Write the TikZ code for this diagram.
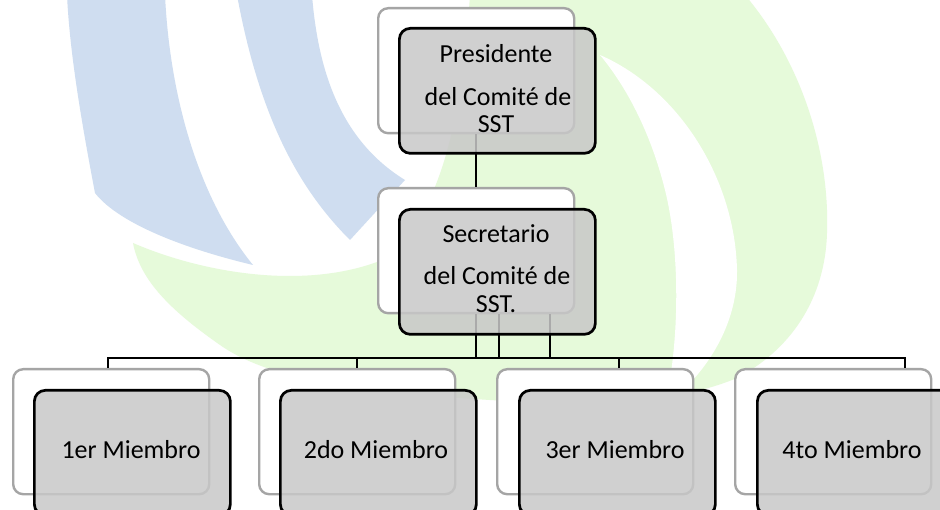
\documentclass[tikz,border=0pt]{standalone}
\usepackage{fontspec}
\setmainfont{Carlito}
\definecolor{wmblue}{RGB}{207,221,240}
\definecolor{wmgreen}{RGB}{230,250,218}
\definecolor{backline}{RGB}{165,165,165}
\definecolor{frontfill}{RGB}{200,200,200}
\begin{document}
\begin{tikzpicture}[x=1pt,y=-1pt,
  backbox/.style={draw=backline, line width=2.4pt, fill=white, rounded corners=10pt,
    minimum width=196pt, minimum height=125pt, inner sep=0pt, anchor=north west},
  frontbox/.style={draw=black, line width=2.7pt, fill=frontfill, fill opacity=0.85,
    rounded corners=11pt, minimum width=196pt, minimum height=125pt, inner sep=0pt, anchor=north west},
  lbl/.style={font=\fontsize{26}{27}\selectfont, anchor=base, inner sep=0pt},
  conn/.style={draw=black, line width=2.2pt},
  halo/.style={draw=white, line width=16pt, line join=round}]
\useasboundingbox (0,0) rectangle (940,510);
\clip (0,0) rectangle (940,510);
\fill[white] (0,0) rectangle (940,510);
% watermark
\fill[wmgreen] (470,-5) -- (745,-5) .. controls (800,60) and (830,150) .. (827,233)
  .. controls (825,300) and (790,350) .. (737,378)
  .. controls (660,410) and (560,405) .. (460,398)
  .. controls (360,392) and (270,380) .. (220,345)
  .. controls (170,310) and (140,280) .. (133,243)
  .. controls (200,272) and (300,290) .. (377,262)
  .. controls (430,230) and (460,150) .. (470,-5) -- cycle;
\fill[white] (600,55) .. controls (680,90) and (735,180) .. (737,270)
  .. controls (738,330) and (700,380) .. (665,405)
  .. controls (680,340) and (680,250) .. (665,190)
  .. controls (650,130) and (625,85) .. (600,55) -- cycle;
\path[halo] (67,-5) -- (165,-5) .. controls (170,100) and (200,200) .. (253,265)
  .. controls (190,250) and (120,225) .. (95,193) .. controls (85,140) and (70,60) .. (67,-5) -- cycle;
\path[halo] (237,-5) -- (312,-5) .. controls (318,70) and (340,140) .. (405,180) -- (350,240)
  .. controls (300,190) and (260,120) .. (237,-5) -- cycle;
\fill[wmblue] (67,-5) -- (165,-5) .. controls (170,100) and (200,200) .. (253,265)
  .. controls (190,250) and (120,225) .. (95,193) .. controls (85,140) and (70,60) .. (67,-5) -- cycle;
\fill[wmblue] (237,-5) -- (312,-5) .. controls (318,70) and (340,140) .. (405,180) -- (350,240)
  .. controls (300,190) and (260,120) .. (237,-5) -- cycle;
% back boxes
\node[backbox] (pB) at (377,7) {};
\node[backbox] (sB) at (377,187) {};
\node[backbox] (m1B) at (12,368) {};
\node[backbox] (m2B) at (258,368) {};
\node[backbox] (m3B) at (496,368) {};
\node[backbox] (m4B) at (734,368) {};
% connectors
\coordinate (busL) at (108,358);
\coordinate (busR) at (905,358);
\draw[conn] (pB.south) -- (sB.north);
\draw[conn] (sB.south) -- (sB.south |- busL);
\draw[conn] ([xshift=23pt]sB.south) -- ([xshift=23pt]sB.south |- busL);
\draw[conn] ([xshift=74pt]sB.south) -- ([xshift=74pt]sB.south |- busL);
\draw[conn, line cap=rect] (busL) -- (busR);
\draw[conn] (busL) -- (busL |- m1B.north);
\draw[conn] (m2B.north |- busL) -- (m2B.north);
\draw[conn] ([xshift=24pt]m3B.north |- busL) -- ([xshift=24pt]m3B.north);
\draw[conn] (busR) -- (busR |- m4B.north);
% front boxes
\node[frontbox] (pF) at (398,27) {};
\node[frontbox] (sF) at (398,208) {};
\node[frontbox] (m1F) at (33,389) {};
\node[frontbox] (m2F) at (279,389) {};
\node[frontbox] (m3F) at (518,389) {};
\node[frontbox] (m4F) at (756,389) {};
% texts
\node[lbl] (pT1) at (496,63) {Presidente};
\node[lbl] (pT2) at (498,106) {del Comité de};
\node[lbl] (pT3) at (496,133) {SST};
\node[lbl] (sT1) at (496,243) {Secretario};
\node[lbl] (sT2) at (497,285) {del Comité de};
\node[lbl] (sT3) at (496,313) {SST.};
\node[lbl] (m1T) at (131,459) {1er Miembro};
\node[lbl] (m2T) at (376,459) {2do Miembro};
\node[lbl] (m3T) at (615,459) {3er Miembro};
\node[lbl] (m4T) at (852,459) {4to Miembro};
\end{tikzpicture}
\end{document}
